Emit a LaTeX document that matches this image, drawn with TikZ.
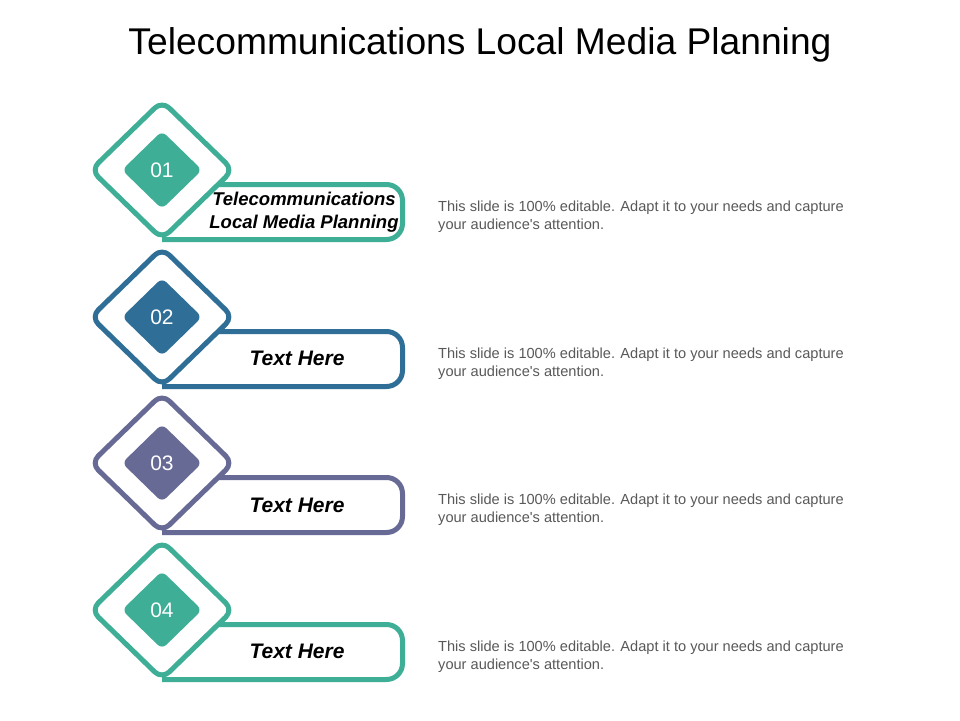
\documentclass[tikz,border=0pt]{standalone}
\usepackage{fontspec}
\setmainfont{Liberation Sans}
\definecolor{cteal}{HTML}{3EAE96}
\definecolor{cblue}{HTML}{2F6F97}
\definecolor{cpurple}{HTML}{666A94}
\definecolor{cdesc}{HTML}{595959}
\tikzset{
  boxline/.style={line width=5pt, rounded corners=16pt, line cap=butt},
  outerdia/.style={line width=5pt, fill=white, rounded corners=10pt},
  innerdia/.style={rounded corners=6pt},
  numtext/.style={text=white, font=\fontsize{21}{24}\selectfont},
  labtext/.style={font=\fontsize{18.5}{23}\selectfont\bfseries\itshape, align=center, inner sep=0pt},
  biglab/.style={labtext, font=\fontsize{21}{24}\selectfont\bfseries\itshape},
  desctext/.style={text=cdesc, font=\fontsize{14.6}{18}\selectfont, align=left, anchor=west, inner sep=0pt},
  titletext/.style={font=\fontsize{37.2}{42}\selectfont}
}
\begin{document}
\begin{tikzpicture}[x=1pt,y=-1pt]
\useasboundingbox (0,0) rectangle (960,720);
\fill[white] (0,0) rectangle (960,720);
\node[titletext] (title) at (480,45) {Telecommunications Local Media Planning};
\foreach \i/\c/\col in {1/170/cteal, 2/317/cblue, 3/463/cpurple, 4/610/cteal}{
  \draw[boxline, draw=\col] (162,\c+69.5) -- (402.5,\c+69.5) -- (402.5,\c+14.5) -- (200,\c+14.5);
  \draw[outerdia, draw=\col] (162,\c-69) -- (233,\c) -- (162,\c+69) -- (91,\c) -- cycle;
  \fill[innerdia, fill=\col] (162,\c-39) -- (202,\c) -- (162,\c+39) -- (122,\c) -- cycle;
  \node[numtext] (num\i) at (162,\c) {0\i};
  \node[desctext] (desc\i) at (438,\c+47) {This slide is 100\% editable. Adapt it to your needs and capture\\your audience\textquotesingle s attention.};
}
\node[labtext] (lab1) at (304,212) {Telecommunications\\Local Media Planning};
\node[biglab] (lab2) at (297,358) {Text Here};
\node[biglab] (lab3) at (297,505) {Text Here};
\node[biglab] (lab4) at (297,651) {Text Here};
\end{tikzpicture}
\end{document}
